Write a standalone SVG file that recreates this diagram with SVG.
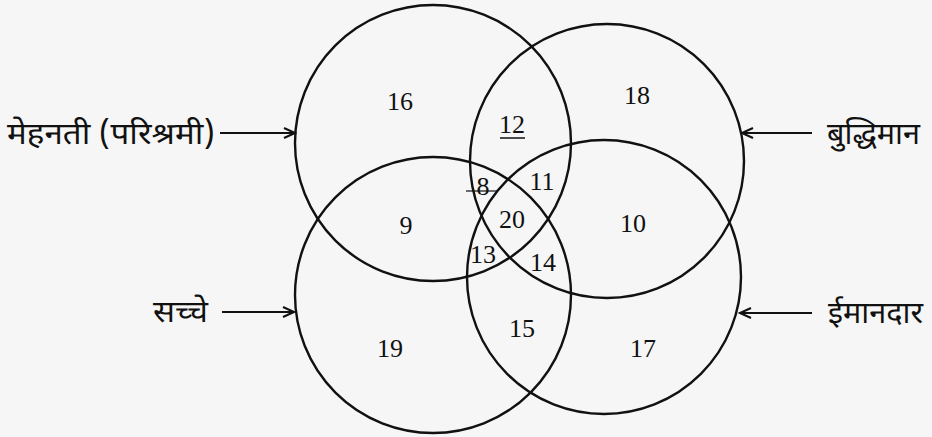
<svg xmlns="http://www.w3.org/2000/svg" width="932" height="437" viewBox="0 0 932 437">
<style>
.c{fill:none;stroke:#111;stroke-width:2.4}
.n{font-family:"Liberation Serif","DejaVu Serif",serif;font-size:26px;fill:#111;text-anchor:middle}
.l{font-family:"Noto Sans Devanagari","Lohit Devanagari","Noto Sans","DejaVu Sans",sans-serif;font-size:30px;fill:#111}
.a{stroke:#111;stroke-width:2;fill:none;marker-end:url(#ah)}
</style>
<defs>
<marker id="ah" markerWidth="14" markerHeight="12" refX="12" refY="6" orient="auto" markerUnits="userSpaceOnUse">
<path d="M1,1 L12,6 L1,11" fill="none" stroke="#111" stroke-width="2"/>
</marker>
</defs>
<rect width="932" height="437" fill="#f6f6f6"/>
<g id="set-mehnati"><circle class="c" cx="433" cy="143" r="138"/><text class="l" x="7" y="144" textLength="208" lengthAdjust="spacingAndGlyphs">मेहनती (परिश्रमी)</text></g>
<g id="set-buddhiman"><circle class="c" cx="607" cy="161" r="137"/><text class="l" x="827" y="144" textLength="93" lengthAdjust="spacingAndGlyphs">बुद्धिमान</text></g>
<g id="set-sachche"><circle class="c" cx="433" cy="295" r="138"/><text class="l" x="153" y="322" textLength="55" lengthAdjust="spacingAndGlyphs">सच्चे</text></g>
<g id="set-imandar"><circle class="c" cx="604" cy="277" r="137"/><text class="l" x="828" y="323" textLength="95" lengthAdjust="spacingAndGlyphs">ईमानदार</text></g>
<g id="connectors">
<line class="a" x1="220" y1="133" x2="295" y2="133"/>
<line class="a" x1="812" y1="133" x2="742" y2="133"/>
<line class="a" x1="222" y1="312" x2="294" y2="312"/>
<line class="a" x1="812" y1="313" x2="740" y2="313"/>
</g>
<g id="numbers">
<text class="n" x="400" y="110">16</text>
<text class="n" x="637" y="104">18</text>
<text class="n" x="512" y="133">12</text>
<line x1="500" y1="138" x2="525" y2="138" stroke="#111" stroke-width="1.5"/>
<text class="n" x="483" y="195">8</text>
<line x1="466" y1="191" x2="497" y2="191" stroke="#111" stroke-width="1.2"/>
<text class="n" x="542" y="190">11</text>
<text class="n" x="512" y="228">20</text>
<text class="n" x="406" y="234">9</text>
<text class="n" x="633" y="232">10</text>
<text class="n" x="483" y="263">13</text>
<text class="n" x="543" y="271">14</text>
<text class="n" x="522" y="337">15</text>
<text class="n" x="390" y="357">19</text>
<text class="n" x="643" y="357">17</text>
</g>
</svg>
